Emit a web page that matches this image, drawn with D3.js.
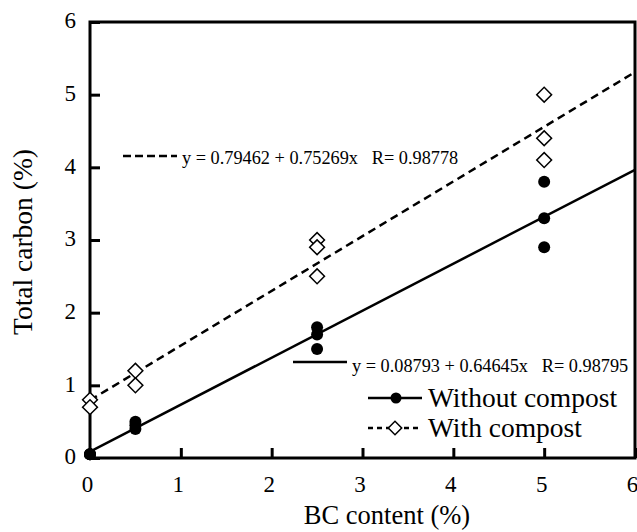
<!DOCTYPE html>
<html><head><meta charset="utf-8">
<script src="https://cdn.jsdelivr.net/npm/d3@7"></script>
<style>
html,body{margin:0;padding:0;background:#fff;}
svg text{font-family:"Liberation Serif","Times New Roman",Tinos,Times,"DejaVu Serif",serif !important;}
</style></head>
<body><svg id="c" width="637" height="532"></svg>
<script>
// Data
const withoutX = [0, 0, 0, 0.5, 0.5, 0.5, 2.5, 2.5, 2.5, 5, 5, 5];
const withoutY = [0.05, 0.05, 0.05, 0.5, 0.45, 0.4, 1.8, 1.7, 1.5, 3.8, 3.3, 2.9];
const withX = [0, 0, 0.5, 0.5, 2.5, 2.5, 2.5, 5, 5, 5];
const withY = [0.8, 0.7, 1.2, 1.0, 3.0, 2.9, 2.5, 5.0, 4.4, 4.1];
const fitWithout = [0.08793, 0.64645]; // intercept, slope
const fitWith = [0.79462, 0.75269];
const eqWithout = "y = 0.08793 + 0.64645x   R= 0.98795";
const eqWith = "y = 0.79462 + 0.75269x   R= 0.98778";
const xTicks = [0, 1, 2, 3, 4, 5, 6];
const yTicks = [0, 1, 2, 3, 4, 5, 6];
const seriesNames = ["Without compost", "With compost"];
const xTitle = "BC content (%)";
const yTitle = "Total carbon (%)";

const FONT = '"Liberation Serif","Times New Roman",Tinos,Times,"DejaVu Serif",serif';
const svg = d3.select("#c");
const L = 90, R = 635, T = 22, B = 458;
const x = d3.scaleLinear().domain([0, 6]).range([L, R]);
const y = d3.scaleLinear().domain([0, 6]).range([B, T]);

// axes with inward ticks
const xAxis = svg.append("g").attr("transform", `translate(0,${B})`)
  .call(d3.axisBottom(x).tickValues(xTicks).tickSize(-10).tickPadding(18).tickFormat(d3.format("d")));
const yAxis = svg.append("g").attr("transform", `translate(${L},0)`)
  .call(d3.axisLeft(y).tickValues(yTicks).tickSize(-10).tickPadding(14).tickFormat(d3.format("d")));
[xAxis, yAxis].forEach(g => {
  g.attr("font-family", FONT);
  g.select(".domain").remove();
  g.selectAll(".tick line").attr("stroke", "#000").attr("stroke-width", 3);
  g.selectAll(".tick text").attr("fill", "#000").attr("font-size", 23);
});
xAxis.selectAll(".tick text").attr("dx", -3);
yAxis.selectAll(".tick text").attr("dy", "0.25em");

// frame
svg.append("rect").attr("x", L).attr("y", T).attr("width", R - L).attr("height", B - T)
  .attr("fill", "none").attr("stroke", "#000").attr("stroke-width", 3);

svg.append("clipPath").attr("id", "pc").append("rect")
  .attr("x", L).attr("y", T).attr("width", R - L).attr("height", B - T);

// regression lines
const plot = svg.append("g").attr("clip-path", "url(#pc)");
const line = d3.line().x(d => x(d[0])).y(d => y(d[1]));
plot.append("path").datum([0, 6].map(v => [v, fitWith[0] + fitWith[1] * v]))
  .attr("d", line).attr("fill", "none").attr("stroke", "#000").attr("stroke-width", 2.5)
  .attr("stroke-dasharray", "8,5");
plot.append("path").datum([0, 6].map(v => [v, fitWithout[0] + fitWithout[1] * v]))
  .attr("d", line).attr("fill", "none").attr("stroke", "#000").attr("stroke-width", 2.5);

// markers
const diamond = d3.symbol().type(d3.symbolSquare).size(110);
svg.append("g").selectAll("path").data(withX.map((v, i) => [v, withY[i]])).join("path")
  .attr("d", diamond)
  .attr("transform", d => `translate(${x(d[0])},${y(d[1])}) rotate(45)`)
  .attr("fill", "#fff").attr("stroke", "#000").attr("stroke-width", 1.5);
svg.append("g").selectAll("circle").data(withoutX.map((v, i) => [v, withoutY[i]])).join("circle")
  .attr("cx", d => x(d[0])).attr("cy", d => y(d[1])).attr("r", 6).attr("fill", "#000");

// equation annotations
svg.append("line").attr("x1", 123).attr("x2", 177).attr("y1", 156).attr("y2", 156)
  .attr("stroke", "#000").attr("stroke-width", 2.5).attr("stroke-dasharray", "8,4");
svg.append("text").attr("x", 182).attr("y", 164).attr("font-size", 18.3)
  .style("white-space", "pre").text(eqWith);
svg.append("line").attr("x1", 293).attr("x2", 347).attr("y1", 362).attr("y2", 362)
  .attr("stroke", "#000").attr("stroke-width", 2.5);
svg.append("text").attr("x", 352).attr("y", 372).attr("font-size", 18.3)
  .style("white-space", "pre").text(eqWithout);

// legend
const lg = svg.append("g");
lg.append("line").attr("x1", 368).attr("x2", 422).attr("y1", 398).attr("y2", 398)
  .attr("stroke", "#000").attr("stroke-width", 2.5);
lg.append("circle").attr("cx", 396).attr("cy", 398).attr("r", 5.5).attr("fill", "#000");
lg.append("text").attr("x", 428).attr("y", 407).attr("font-size", 27.5).text(seriesNames[0]);
lg.append("line").attr("x1", 368).attr("x2", 422).attr("y1", 428).attr("y2", 428)
  .attr("stroke", "#000").attr("stroke-width", 2.5).attr("stroke-dasharray", "5,4");
lg.append("path").attr("d", d3.symbol().type(d3.symbolSquare).size(90)())
  .attr("transform", "translate(395,428) rotate(45)")
  .attr("fill", "#fff").attr("stroke", "#000").attr("stroke-width", 1.5);
lg.append("text").attr("x", 428).attr("y", 437).attr("font-size", 27.5).text(seriesNames[1]);

// axis titles
svg.append("text").attr("x", 387).attr("y", 524).attr("text-anchor", "middle")
  .attr("font-size", 26.5).text(xTitle);
svg.append("text").attr("transform", "translate(32,242) rotate(-90)").attr("text-anchor", "middle")
  .attr("font-size", 27.5).text(yTitle);
</script></body></html>
